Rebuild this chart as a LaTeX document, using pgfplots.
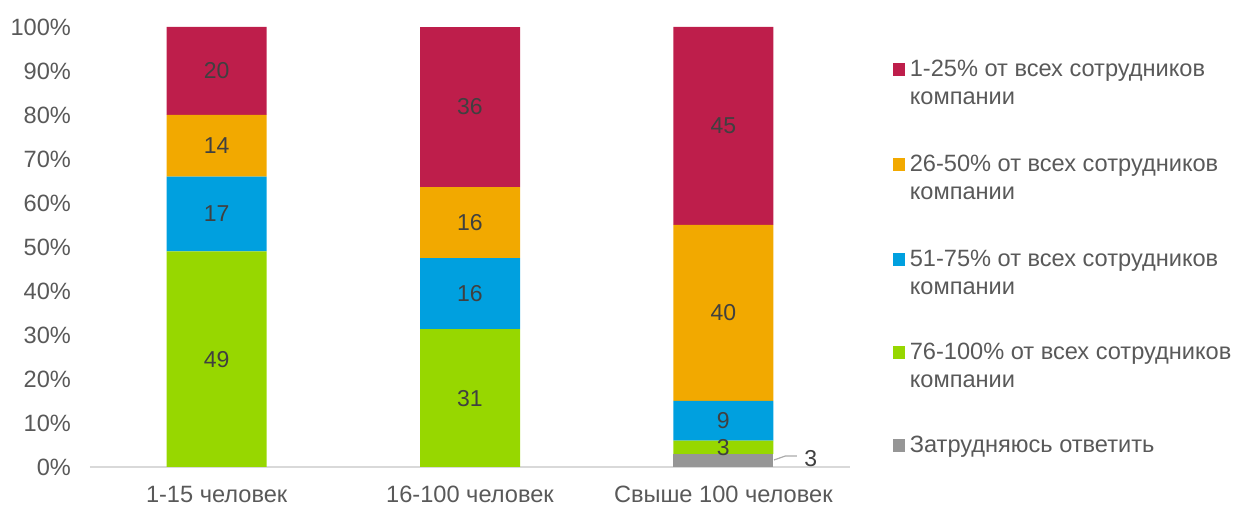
\documentclass[border=0pt]{standalone}
\usepackage{pgfplots}
\pgfplotsset{compat=1.18}
\usepackage{pgfplotstable}
\usepackage{fontspec}
\setmainfont{Liberation Sans}
\definecolor{cred}{HTML}{BE1E4B}
\definecolor{corange}{HTML}{F2A900}
\definecolor{cblue}{HTML}{00A0DF}
\definecolor{cgreen}{HTML}{97D700}
\definecolor{cgray}{HTML}{969696}
\definecolor{axisgray}{HTML}{D9D9D9}
\definecolor{tickgray}{HTML}{595959}
\definecolor{labelgray}{HTML}{404040}

\pgfplotstableread{
x y lbl
0 0 {}
1 0 {}
2 3 3
}\tgray
\pgfplotstableread{
x y lbl
0 49 49
1 31.31 31
2 3 3
}\tgreen
\pgfplotstableread{
x y lbl
0 17 17
1 16.16 16
2 9 9
}\tblue
\pgfplotstableread{
x y lbl
0 14 14
1 16.16 16
2 40 40
}\torange
\pgfplotstableread{
x y lbl
0 20 20
1 36.36 36
2 45 45
}\tred

\pgfplotsset{
  centerlabel/.style={
    nodes near coords,
    point meta=explicit symbolic,
    every node near coord/.append style={anchor=center,
      font=\fontsize{11.5}{13}\selectfont, text=labelgray},
  },
}

\begin{document}
\begin{tikzpicture}
\useasboundingbox (-45pt,-19.5pt) rectangle (575.5pt,233.5pt);
\begin{axis}[
  at={(0,0)}, anchor=south west,
  scale only axis, width=380pt, height=220pt,
  ybar stacked, bar width=50pt,
  xmin=-0.5, xmax=2.5, ymin=0, ymax=100,
  xtick={0,1,2},
  xticklabels={1-15 человек,16-100 человек,Свыше 100 человек},
  ytick={0,10,...,100},
  yticklabel={\pgfmathprintnumber{\tick}\%},
  axis x line*=bottom, axis y line*=left,
  x axis line style={draw=axisgray, line width=1pt, -},
  y axis line style={draw=none},
  major tick length=0pt,
  tick style={draw=none},
  /pgf/number format/assume math mode=true,
  ticklabel style={font=\fontsize{11.8}{13}\selectfont, text=tickgray},
  yticklabel style={xshift=-6pt},
  xticklabel style={yshift=-6pt},
  clip=false,
]
\addplot[fill=cgray, draw=none, nodes near coords, point meta=explicit symbolic,
  every node near coord/.append style={anchor=west, xshift=37pt, yshift=1pt,
  font=\fontsize{11.5}{13}\selectfont, text=labelgray}]
  table[x=x,y=y,meta=lbl] {\tgray};
\addplot[fill=cgreen, draw=none, centerlabel] table[x=x,y=y,meta=lbl] {\tgreen};
\addplot[fill=cblue, draw=none, centerlabel] table[x=x,y=y,meta=lbl] {\tblue};
\addplot[fill=corange, draw=none, centerlabel] table[x=x,y=y,meta=lbl] {\torange};
\addplot[fill=cred, draw=none, centerlabel] table[x=x,y=y,meta=lbl] {\tred};
\draw[color=cgray!80, line width=0.6pt] (axis cs:2.2,1.6) -- (axis cs:2.245,2.5) -- (axis cs:2.29,2.5);
\end{axis}
\begin{scope}[every node/.style={anchor=base west, align=left, inner sep=0pt,
  font=\fontsize{11.8}{14}\selectfont, text=tickgray}]
\fill[cred]    (401.5pt,195.5pt) rectangle ++(6pt,6.5pt);
\node at (409.7pt,181pt) {1-25\% от всех сотрудников\\компании};
\fill[corange] (401.5pt,148pt) rectangle ++(6pt,6.5pt);
\node at (409.7pt,133.5pt) {26-50\% от всех сотрудников\\компании};
\fill[cblue]   (401.5pt,100.7pt) rectangle ++(6pt,6.5pt);
\node at (409.7pt,86.2pt) {51-75\% от всех сотрудников\\компании};
\fill[cgreen]  (401.5pt,54pt) rectangle ++(6pt,6.5pt);
\node at (409.7pt,39.5pt) {76-100\% от всех сотрудников\\компании};
\fill[cgray]   (401.5pt,7.5pt) rectangle ++(6pt,6.5pt);
\node at (409.7pt,7pt) {Затрудняюсь ответить};
\end{scope}
\end{tikzpicture}
\end{document}
